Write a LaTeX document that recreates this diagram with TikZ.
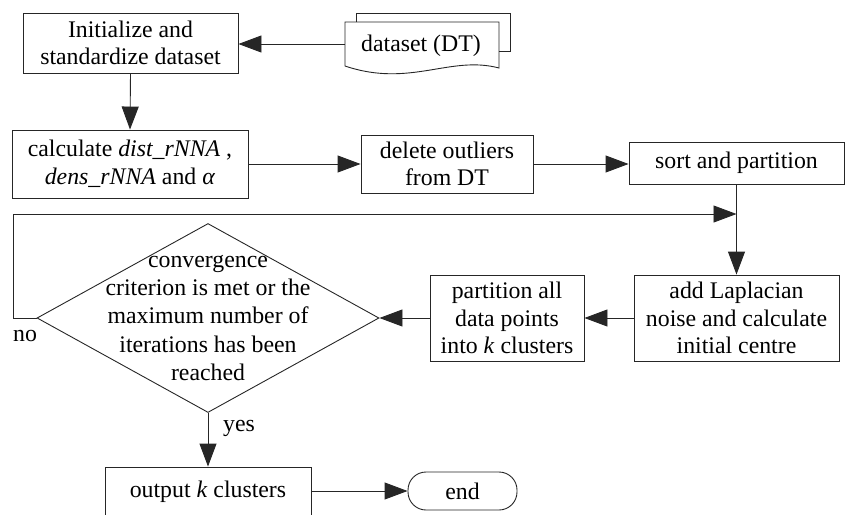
\documentclass[tikz,border=0pt]{standalone}
\usepackage{fontspec}
\setmainfont{Liberation Serif}
\usetikzlibrary{arrows.meta,shapes.geometric,calc}
\begin{document}
\begin{tikzpicture}[x=1pt,y=-1pt,
  every node/.style={font=\fontsize{23.8}{27.5}\selectfont},
  box/.style={draw=black!85,line width=0.9pt,rectangle,align=center,inner sep=0pt},
  arr/.style={draw=black!85,line width=0.9pt,-{Triangle[length=23pt,width=17pt]}},
  ln/.style={draw=black!85,line width=0.9pt}]
\useasboundingbox (0,0) rectangle (845,514);
% dataset document
\draw[ln] (356,22) -- (356,13) -- (510,13) -- (510,51) -- (499,51);
\draw[ln] (345,22) -- (499,22) -- (499,68) .. controls (450,55) and (410,88) .. (345,66) -- cycle;
\node[inner sep=0pt,minimum width=154pt,minimum height=44pt] (ds) at (422,44) {};
\node[inner sep=0pt] (dstext) at (421,46) {dataset (DT)};
% boxes
\node[box,minimum width=215pt,minimum height=60pt] (init) at (130.5,43) {Initialize and\\standardize dataset};
\node[box,minimum width=236pt,minimum height=68pt] (calc) at (130,164) {calculate \textit{dist\_rNNA} ,\\\textit{dens\_rNNA} and \textit{α}};
\node[box,minimum width=172pt,minimum height=58pt] (del) at (447,164) {delete outliers\\from DT};
\node[box,minimum width=215pt,minimum height=42pt] (sort) at (736.5,163) {sort and partition};
\node[box,minimum width=205pt,minimum height=86pt] (add) at (736.5,318) {add Laplacian\\noise and calculate\\initial centre};
\node[box,minimum width=154pt,minimum height=86pt] (part) at (507,318) {partition all\\data points\\into \textit{k} clusters};
\node[draw=black!85,line width=0.9pt,diamond,inner sep=0pt,minimum width=342pt,minimum height=189pt] (dia) at (208,318) {};
\node[align=center,inner sep=0pt,font=\fontsize{23.8}{28.3}\selectfont] (diatext) at (208,318) {convergence\\criterion is met or the\\maximum number of\\iterations has been\\reached};
\node[box,minimum width=206pt,minimum height=50pt] (out) at (208,492) {output \textit{k} clusters};
\node[draw=black!85,line width=0.9pt,rectangle,rounded corners=18pt,minimum width=109pt,minimum height=38pt,inner sep=0pt] (end) at (462.5,491) {end};
% labels
\node[inner sep=0pt] (no) at (25,336) {no};
\node[inner sep=0pt] (yes) at (239,428) {yes};
% connectors
\coordinate (j) at ($(sort.south)!0.5!(sort.south)$);
\coordinate (jj) at (j |- 0,214);
\draw[arr] (ds.west) -- (init.east |- ds.west);
\draw[arr] (init.south) -- (calc.north);
\draw[arr] (calc.east) -- (del.west);
\draw[arr] (del.east) -- (del.east -| sort.west);
\draw[arr] (sort.south) -- (add.north);
\draw[arr] (dia.west) -- ++(-23,0) |- (jj);
\draw[arr] (add.west) -- (part.east);
\draw[arr] (part.west) -- (dia.east);
\draw[arr] (dia.south) -- (out.north);
\draw[arr] (out.east |- end.west) -- (end.west);
\end{tikzpicture}
\end{document}
